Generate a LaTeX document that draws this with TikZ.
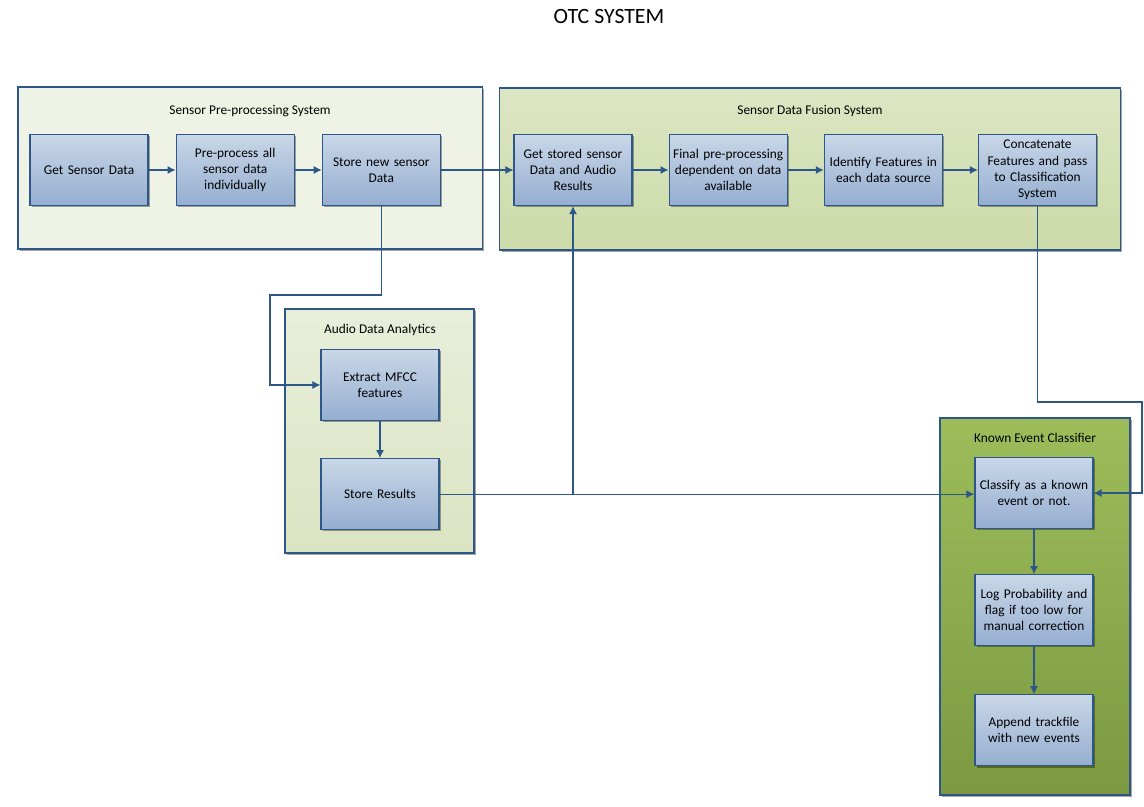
\documentclass[tikz,border=0pt]{standalone}
\usepackage{fontspec}
\setmainfont{Carlito}
\usetikzlibrary{arrows.meta, positioning, shadows}

\definecolor{linecol}{HTML}{2C5788}
\definecolor{boxtop}{HTML}{C9D7E8}
\definecolor{boxbot}{HTML}{95AED0}
\definecolor{preback}{HTML}{EFF3E5}
\definecolor{fustop}{HTML}{DCE6C4}
\definecolor{fusbot}{HTML}{CCDBA8}
\definecolor{audtop}{HTML}{E8EEDA}
\definecolor{audbot}{HTML}{DAE4C2}
\definecolor{kectop}{HTML}{9DBD5B}
\definecolor{kecbot}{HTML}{7B9A41}

\begin{document}
\begin{tikzpicture}[x=0.025cm, y=-0.025cm, >={Latex[length=2mm,width=2mm]},
    font=\fontsize{9.5}{11.5}\selectfont,
    block/.style={rectangle, draw=linecol, thick, align=center, text width=2.8cm,
        minimum width=2.95cm, minimum height=1.775cm, inner sep=1pt,
        top color=boxtop, bottom color=boxbot,
        drop shadow={shadow xshift=1.2pt, shadow yshift=-1.2pt, fill=black, opacity=0.35}},
    group/.style={rectangle, draw=linecol, thick,
        drop shadow={shadow xshift=1.5pt, shadow yshift=-1.5pt, fill=black, opacity=0.35}},
    title/.style={font=\fontsize{9.5}{11.5}\selectfont},
    link/.style={draw=linecol, thick}]

    \useasboundingbox (0,0) rectangle (1144,807);

    \node (head) at (609,17) {\fontsize{15.5}{18}\selectfont OTC SYSTEM};

    % containers
    \node (presys) [group, fill=preback, minimum width=11.6cm, minimum height=4.05cm] at (250,168) {};
    \node (fussys) [group, top color=fustop, bottom color=fusbot, minimum width=15.5cm, minimum height=4.05cm] at (810,169) {};
    \node (audsys) [group, top color=audtop, bottom color=audbot, minimum width=4.725cm, minimum height=6.1cm] at (379.5,431) {};
    \node (kecsys) [group, top color=kectop, bottom color=kecbot, minimum width=4.75cm, minimum height=9.425cm] at (1035,606.5) {};

    \node (prelbl) [title] at (250,111) {Sensor Pre-processing System};
    \node (fuslbl) [title] at (810,111) {Sensor Data Fusion System};
    \node (audlbl) [title] at (380,330) {Audio Data Analytics};
    \node (keclbl) [title] at (1035,438) {Known Event Classifier};

    % sensor pre-processing
    \node (get) [block] at (89,170) {Get Sensor Data};
    \node (pre) [block, right=0.675cm of get] {Pre-process all\\sensor data\\individually};
    \node (store) [block, right=0.675cm of pre] {Store new sensor\\Data};

    % fusion
    \node (getstored) [block] at (573,170) {Get stored sensor\\Data and Audio\\Results};
    \node (final) [block, right=0.9cm of getstored] {Final pre-processing\\dependent on data\\available};
    \node (ident) [block, right=0.9cm of final] {Identify Features in\\each data source};
    \node (concat) [block, right=0.875cm of ident] {Concatenate\\Features and pass\\to Classification\\System};

    % audio
    \node (extract) [block] at (380,385) {Extract MFCC\\features};
    \node (storeres) [block, below=0.925cm of extract] {Store Results};

    % classifier
    \node (classify) [block] at (1034,493) {Classify as a known\\event or not.};
    \node (logprob) [block, below=1.125cm of classify] {Log Probability and\\flag if too low for\\manual correction};
    \node (append) [block, below=1.2cm of logprob] {Append trackfile\\with new events};

    \coordinate (bendA) at (270,295);
    \coordinate (bendB) at (1142,402);
    \coordinate (split) at (getstored.south |- storeres.east);

    \draw [link, ->] (get) -- (pre);
    \draw [link, ->] (pre) -- (store);
    \draw [link, ->] (store) -- (getstored);
    \draw [link, ->] (getstored) -- (final);
    \draw [link, ->] (final) -- (ident);
    \draw [link, ->] (ident) -- (concat);
    \draw [link, ->] (store.south) |- (bendA) |- (extract.west);
    \draw [link, ->] (extract) -- (storeres);
    \draw [link] (storeres.east) -- (split);
    \draw [link, ->] (split) -- (getstored.south);
    \draw [link, ->] (split) -- (split -| classify.west);
    \draw [link, ->] (concat.south) |- (bendB) |- (classify.east);
    \draw [link, ->] (classify) -- (logprob);
    \draw [link, ->] (logprob) -- (append);

\end{tikzpicture}
\end{document}
